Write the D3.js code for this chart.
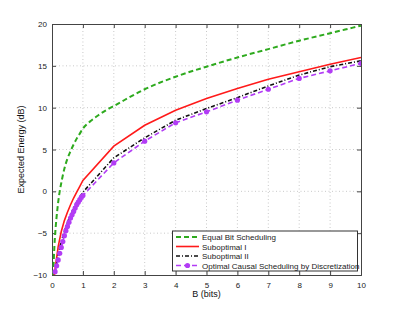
<!DOCTYPE html>
<html><head><meta charset="utf-8">
<script src="https://cdn.jsdelivr.net/npm/d3@7/dist/d3.min.js"></script>
<style>body{margin:0;background:#fff}svg{display:block}text{font-family:"Liberation Sans",Arial,sans-serif}</style>
</head><body><svg id="c" width="399" height="310"></svg>
<script>
const xTicks=[0,1,2,3,4,5,6,7,8,9,10];
const yTicks=[-10,-5,0,5,10,15,20];
const seriesNames=["Equal Bit Scheduling","Suboptimal I","Suboptimal II","Optimal Causal Scheduling by Discretization"];
const greenB=[0.04,0.06,0.08,0.1,0.15,0.2,0.25,0.3,0.4,0.5,0.6,0.7,0.8,0.9,1,1.25,1.5,1.75,2,3,4,5,6,7,8,9,10];
const greenE=[-10,-8,-6.4,-5.2,-3,-1.3,0,1,2.7,3.9,4.8,5.6,6.3,6.9,7.5,8.4,9.1,9.7,10.2,12.2,13.7,14.9,16.0,17.0,18.0,18.9,19.8];
const redB=[0.08,0.1,0.2,0.3,0.4,0.5,0.6,0.7,0.8,0.9,1,2,3,4,5,6,7,8,9,10];
const redE=[-10,-9.3,-6.6,-4.8,-3.5,-2.5,-1.6,-0.8,-0.1,0.6,1.3,5.4,7.9,9.7,11.1,12.3,13.4,14.3,15.2,16.0];
const blackB=[0.1,0.2,0.3,0.4,0.5,0.6,0.7,0.8,0.9,1,2,3,4,5,6,7,8,9,10];
const blackE=[-9.8,-7.6,-6.0,-4.8,-3.7,-2.8,-2.0,-1.3,-0.7,-0.1,4.0,6.4,8.5,9.9,11.2,12.6,13.9,14.9,15.6];
const purpleB=[0.1,0.15,0.2,0.25,0.3,0.35,0.4,0.45,0.5,0.55,0.6,0.65,0.7,0.75,0.8,0.85,0.9,0.95,1,2,3,4,5,6,7,8,9,10];
const purpleE=[-9.6,-8.9,-8.2,-7.4,-6.7,-6.0,-5.3,-4.7,-4.2,-3.7,-3.2,-2.8,-2.4,-2.0,-1.6,-1.3,-1.0,-0.7,-0.5,3.4,6.0,8.2,9.5,10.9,12.2,13.5,14.4,15.3];

const L=52,T=24,R=361,B=275;
const svg=d3.select("#c");
const x=d3.scaleLinear().domain([0,10]).range([L,R]);
const y=d3.scaleLinear().domain([-10,20]).range([B,T]);
const defs=svg.append("defs");
defs.append("clipPath").attr("id","clip").append("rect").attr("x",L).attr("y",T).attr("width",R-L).attr("height",B-T);

// grid
const g=svg.append("g");
g.selectAll(".gx").data(xTicks.slice(1,-1)).join("line").attr("x1",d=>x(d)).attr("x2",d=>x(d)).attr("y1",T).attr("y2",B)
 .attr("stroke","#bbb").attr("stroke-width",0.8).attr("stroke-dasharray","1,2.5");
g.selectAll(".gy").data(yTicks.slice(1,-1)).join("line").attr("y1",d=>y(d)).attr("y2",d=>y(d)).attr("x1",L).attr("x2",R)
 .attr("stroke","#bbb").attr("stroke-width",0.8).attr("stroke-dasharray","1,2.5");

// axes
const ax=svg.append("g").attr("transform",`translate(0,${B})`).call(d3.axisBottom(x).tickValues(xTicks).tickSize(-4).tickPadding(7).tickFormat(d3.format("d")));
const ay=svg.append("g").attr("transform",`translate(${L},0)`).call(d3.axisLeft(y).tickValues(yTicks).tickSize(-4).tickPadding(5).tickFormat(d=>d<0?"\u2212"+(-d):d));
const axT=svg.append("g").attr("transform",`translate(0,${T})`).call(d3.axisTop(x).tickValues(xTicks).tickSize(-4).tickFormat(""));
const ayR=svg.append("g").attr("transform",`translate(${R},0)`).call(d3.axisRight(y).tickValues(yTicks).tickSize(-4).tickFormat(""));
[ax,ay,axT,ayR].forEach(a=>{a.selectAll("path").attr("stroke","#444").attr("stroke-width",1);a.selectAll("line").attr("stroke","#444");a.selectAll("text").attr("font-size","8px").attr("fill","#222").attr("font-family","Liberation Sans, Arial, sans-serif");});

const line=d3.line().x(d=>x(d[0])).y(d=>y(d[1]));
const smooth=d3.line().x(d=>x(d[0])).y(d=>y(d[1])).curve(d3.curveMonotoneX);
const plot=svg.append("g").attr("clip-path","url(#clip)");
const zip=(a,b)=>a.map((v,i)=>[v,b[i]]);
const styles=[
 {c:"#2eaa1e",w:2,dash:"5,3",data:zip(greenB,greenE),s:true},
 {c:"#ff1a1a",w:1.6,dash:null,data:zip(redB,redE)},
 {c:"#111",w:1.6,dash:"4,2,1,2",data:zip(blackB,blackE)},
 {c:"#b23cf5",w:1.6,dash:"5,3",data:zip(purpleB,purpleE),m:true}
];
styles.forEach(s=>{
  const p=plot.append("path").attr("d",(s.s?smooth:line)(s.data)).attr("fill","none").attr("stroke",s.c).attr("stroke-width",s.w);
  if(s.dash)p.attr("stroke-dasharray",s.dash);
  if(s.m)plot.selectAll(null).data(s.data).join("circle").attr("cx",d=>x(d[0])).attr("cy",d=>y(d[1])).attr("r",2.6).attr("fill",s.c);
});

// labels
svg.append("text").attr("x",(L+R)/2).attr("y",297).attr("text-anchor","middle").attr("font-size","9px").attr("fill","#111").text("B (bits)");
svg.append("text").attr("transform",`translate(24,${(T+B)/2}) rotate(-90)`).attr("text-anchor","middle").attr("font-size","9px").attr("fill","#111").text("Expected Energy (dB)");

// legend
const lg=svg.append("g");
lg.append("rect").attr("x",172.5).attr("y",231).attr("width",185).attr("height",40).attr("fill","#fff").attr("stroke","#333").attr("stroke-width",1);
const rowY=[237,246.5,256,265.5];
styles.forEach((s,i)=>{
  const ly=rowY[i];
  const l=lg.append("line").attr("x1",176).attr("x2",199).attr("y1",ly).attr("y2",ly).attr("stroke",s.c).attr("stroke-width",s.w);
  if(s.dash)l.attr("stroke-dasharray",s.dash);
  if(s.m)lg.append("circle").attr("cx",187.5).attr("cy",ly).attr("r",2.6).attr("fill",s.c);
  lg.append("text").attr("x",202).attr("y",ly+3).attr("font-size","8px").attr("fill","#222").text(seriesNames[i]);
});
</script></body></html>
